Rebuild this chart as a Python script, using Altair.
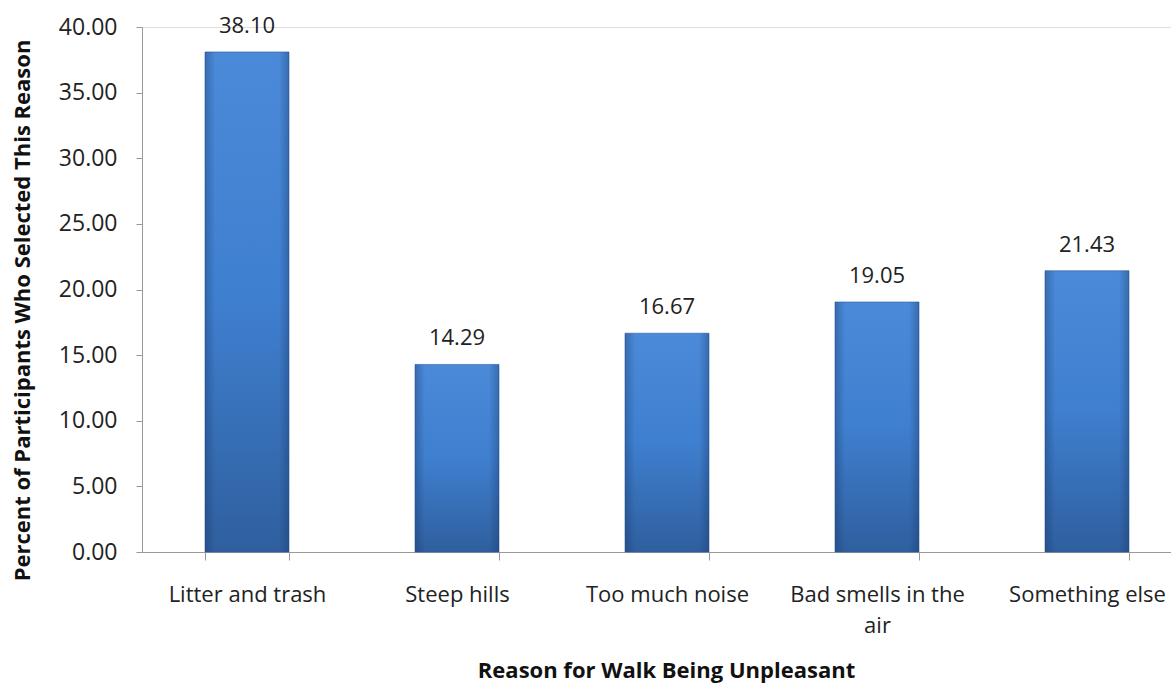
import altair as alt
import pandas as pd

categories = ["Litter and trash", "Steep hills", "Too much noise", "Bad smells in the air", "Something else"]
values = [38.10, 14.29, 16.67, 19.05, 21.43]

df = pd.DataFrame({"reason": categories, "pct": values})

FONT = "Open Sans"

x = alt.X("reason:N", sort=categories,
          scale=alt.Scale(paddingInner=0.6, paddingOuter=0.3, range=[0, 1050]),
          axis=alt.Axis(title="Reason for Walk Being Unpleasant", titleFont=FONT, titleFontSize=22,
                        titleFontWeight="bold", titleColor="#111",
                        titleX=524, titleY=118, titleBaseline="middle", titleAlign="center",
                        labelFont=FONT, labelFontSize=22, labelColor="#222", labelAngle=0,
                        labelPadding=24, labelLineHeight=31, tickBand="extent", tickSize=8,
                        tickColor="#999", domainColor="#999", labelLimit=300,
                        labelExpr="datum.label == 'Bad smells in the air' ? ['Bad smells in the', 'air'] : datum.label"))
y = alt.Y("pct:Q", scale=alt.Scale(domain=[0, 40]),
          axis=alt.Axis(title="Percent of Participants Who Selected This Reason", titleFont=FONT,
                        titleFontSize=22, titleFontWeight="bold", titleColor="#111",
                        titleX=-120, titleY=283, titleAngle=-90, titleBaseline="middle", titleAlign="center",
                        labelFont=FONT, labelFontSize=23, labelColor="#222", format=".2f",
                        values=[0, 5, 10, 15, 20, 25, 30, 35, 40], tickSize=6, tickColor="#999",
                        domainColor="#999", labelPadding=19, grid=False))

base = alt.Chart(df)

bars = base.mark_bar(
    color=alt.Gradient(gradient="linear", x1=0, y1=0, x2=0, y2=1,
                       stops=[alt.GradientStop(color="#4a8ad8", offset=0),
                              alt.GradientStop(color="#3f7fcf", offset=0.5),
                              alt.GradientStop(color="#2f5f9e", offset=1)]),
    stroke="#2d5c99", strokeWidth=0.6
).encode(x=x, y=y)

shade = base.mark_bar(
    color=alt.Gradient(gradient="linear", x1=0, y1=0, x2=1, y2=0,
                       stops=[alt.GradientStop(color="rgba(20,50,100,0.35)", offset=0),
                              alt.GradientStop(color="rgba(20,50,100,0)", offset=0.12),
                              alt.GradientStop(color="rgba(20,50,100,0)", offset=0.88),
                              alt.GradientStop(color="rgba(20,50,100,0.35)", offset=1)])
).encode(x=x, y=y)

labels = base.mark_text(font=FONT, fontSize=22, color="#222", dy=-26).encode(
    x=x, y=y, text=alt.Text("pct:Q", format=".2f"))

chart = alt.layer(bars, shade, labels).properties(
    width=1029, height=525,
    autosize=alt.AutoSizeParams(type="none"),
    padding={"left": 142, "top": 27, "right": 0, "bottom": 140}
).configure_view(strokeWidth=0, stroke="transparent").configure(background="white")

chart.save("out.html", embed_options={"renderer": "svg", "actions": False})
